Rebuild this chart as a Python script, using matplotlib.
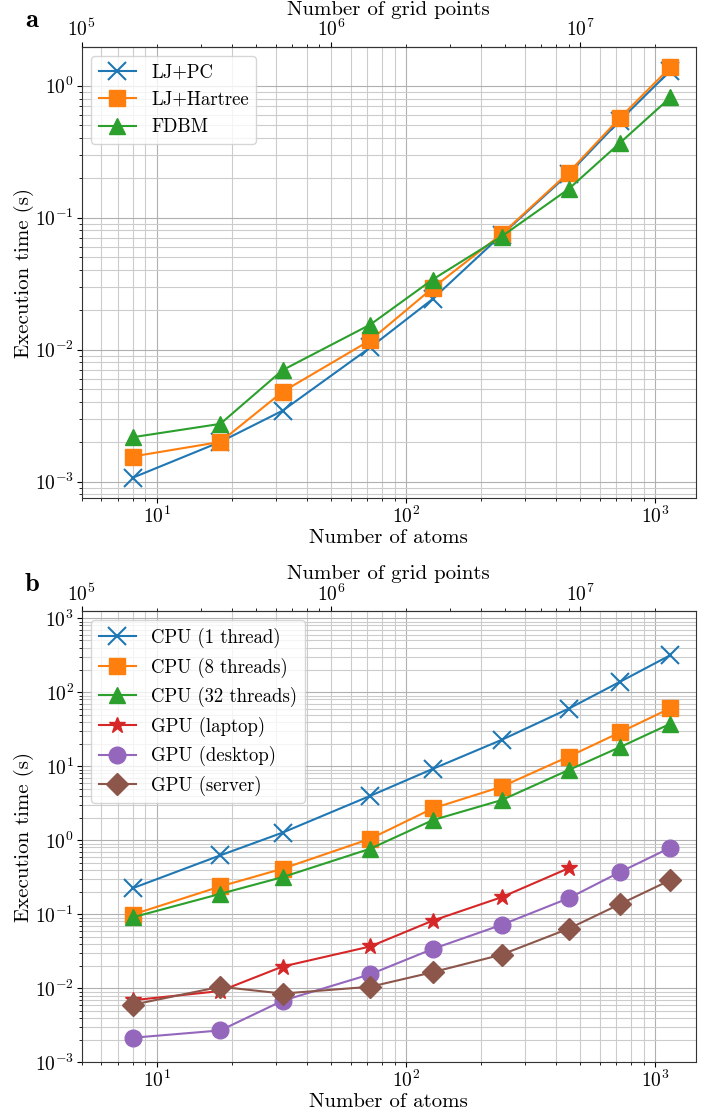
import numpy as np
import matplotlib
matplotlib.use('Agg')
from matplotlib import pyplot as plt

plt.rcParams['font.family'] = 'serif'
plt.rcParams['font.serif'] = ['cmr10']
plt.rcParams['mathtext.fontset'] = 'cm'
plt.rcParams['axes.formatter.use_mathtext'] = True
plt.rcParams['axes.unicode_minus'] = False

# number of atoms (2 n^2)
atoms = [8, 18, 32, 72, 128, 242, 450, 722, 1152]
grid_per_atom = 2e4

# panel a: execution time (s)
lj_pc = [1.07e-3, 2.0e-3, 3.45e-3, 0.0104, 0.0242, 0.074, 0.215, 0.545, 1.3]
lj_hartree = [1.55e-3, 2.0e-3, 4.8e-3, 0.0118, 0.0293, 0.075, 0.22, 0.57, 1.38]
fdbm = [2.17e-3, 2.74e-3, 7.0e-3, 0.0155, 0.034, 0.072, 0.165, 0.368, 0.815]

# panel b: execution time (s)
cpu_1 = [0.225, 0.626, 1.27, 3.99, 9.2, 22.7, 60.0, 138, 317]
cpu_8 = [0.099, 0.238, 0.413, 1.05, 2.69, 5.29, 13.5, 28.6, 61]
cpu_32 = [0.091, 0.189, 0.318, 0.77, 1.87, 3.49, 8.9, 18.1, 37.5]
gpu_laptop = [6.9e-3, 9.2e-3, 0.0197, 0.0368, 0.082, 0.170, 0.42]
gpu_desktop = [2.15e-3, 2.7e-3, 6.8e-3, 0.0155, 0.034, 0.072, 0.165, 0.371, 0.796]
gpu_server = [6.0e-3, 0.0105, 8.5e-3, 0.0105, 0.0165, 0.0285, 0.064, 0.137, 0.29]

fig = plt.figure(figsize=(7.13, 11.13), dpi=100)
ax_a = fig.add_axes([0.1146, 0.5523, 0.8611, 0.4057])
ax_b = fig.add_axes([0.1146, 0.0455, 0.8611, 0.4055])


def style(ax):
    ax.set_xscale('log')
    ax.set_yscale('log')
    ax.grid(which='major', color='#b0b0b0', lw=0.8)
    ax.grid(which='minor', color='#cccccc', lw=0.8)
    for s in ax.spines.values():
        s.set_color('#333333')
    ax.tick_params(labelsize=14, pad=2)
    ax.set_xlim(5, 1455)
    ax.set_xlabel('Number of atoms', fontsize=15, labelpad=1)
    ax.set_ylabel('Execution time (s)', fontsize=15, labelpad=1)
    sec = ax.secondary_xaxis('top', functions=(lambda x: x * grid_per_atom,
                                               lambda x: x / grid_per_atom))
    sec.set_xlabel('Number of grid points', fontsize=15, labelpad=3)
    sec.tick_params(labelsize=14, pad=1)
    sec.spines['top'].set_color('#333333')


ms = 12
ax_a.plot(atoms, lj_pc, marker='x', ms=ms + 1, mew=1.5, label='LJ+PC')
ax_a.plot(atoms, lj_hartree, marker='s', ms=ms, label='LJ+Hartree')
ax_a.plot(atoms, fdbm, marker='^', ms=ms, label='FDBM')
style(ax_a)
ax_a.legend(loc='upper left', fontsize=13.5)

ax_b.plot(atoms, cpu_1, marker='x', ms=ms + 1, mew=1.5, label='CPU (1 thread)')
ax_b.plot(atoms, cpu_8, marker='s', ms=ms, label='CPU (8 threads)')
ax_b.plot(atoms, cpu_32, marker='^', ms=ms, label='CPU (32 threads)')
ax_b.plot(atoms[:len(gpu_laptop)], gpu_laptop, marker='*', ms=ms, label='GPU (laptop)')
ax_b.plot(atoms, gpu_desktop, marker='o', ms=ms, label='GPU (desktop)')
ax_b.plot(atoms, gpu_server, marker='D', ms=ms - 1, label='GPU (server)')
style(ax_b)
ax_b.set_ylim(1e-3, 1.25e3)
ax_b.legend(loc='upper left', fontsize=13.5)

fig.text(0.045, 0.982, 'a', fontsize=19, family='cmb10', va='center', ha='center')
fig.text(0.045, 0.475, 'b', fontsize=19, family='cmb10', va='center', ha='center')

fig.savefig('out.png', dpi=100)
